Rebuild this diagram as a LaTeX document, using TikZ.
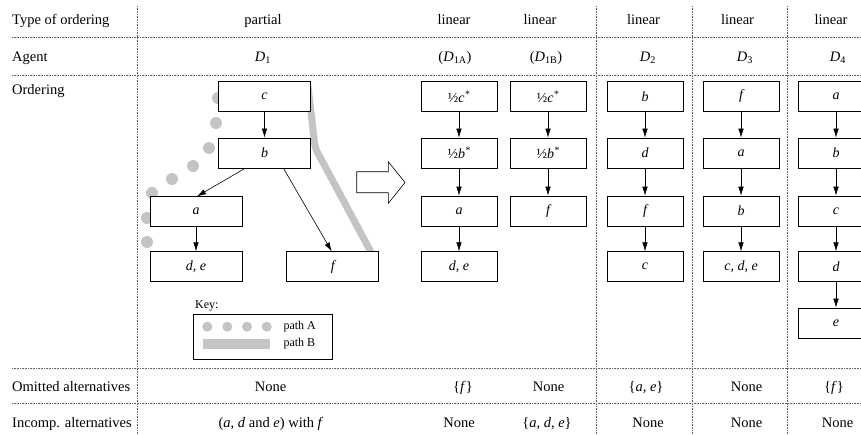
\documentclass[tikz,border=0pt]{standalone}
\usepackage{fontspec}
\setmainfont{Liberation Serif}
\usetikzlibrary{arrows.meta}
\definecolor{pathgray}{RGB}{196,196,196}
\definecolor{gridgray}{RGB}{100,100,100}
\begin{document}
\begin{tikzpicture}[x=1pt,y=-1pt,
  every node/.style={font=\fontsize{14.5}{17}\selectfont, inner sep=0pt},
  grid/.style={dash pattern=on 0.7pt off 0.9pt, line width=0.8pt, gridgray},
  lbox/.style={draw, line width=0.7pt, fill=white, minimum width=92pt, minimum height=30pt, font=\fontsize{14}{17}\selectfont\itshape},
  rbox/.style={lbox, minimum width=76pt},
  conn/.style={-{Latex[length=9pt,width=5.5pt]}, line width=0.6pt},
  lab/.style={anchor=base west},
  cell/.style={anchor=base},
  keytext/.style={font=\fontsize{12}{14}\selectfont},
  ]
\useasboundingbox (0,0) rectangle (861,434);
% grid
\draw[grid] (12,37.7) -- (861,37.7);
\draw[grid] (12,75) -- (861,75);
\draw[grid] (12,368.3) -- (861,368.3);
\draw[grid] (12,403.3) -- (861,403.3);
\draw[grid] (137,6) -- (137,434);
\draw[grid] (596.7,6) -- (596.7,434);
\draw[grid] (692.7,6) -- (692.7,434);
\draw[grid] (787.7,6) -- (787.7,434);
% row labels
\node[lab] (l1) at (12,24.8) {Type of ordering};
\node[lab] (l2) at (12,61.3) {Agent};
\node[lab] (l3) at (12,94.8) {Ordering};
\node[lab] (l4) at (12,391.3) {Omitted alternatives};
\node[lab] (l5) at (12,427) {Incomp. alternatives};
% headers
\node[cell] (h0) at (263,24.8) {partial};
\node[cell] (h1) at (454,24.8) {linear};
\node[cell] (h2) at (540,24.8) {linear};
\node[cell] (h3) at (643.5,24.8) {linear};
\node[cell] (h4) at (737.5,24.8) {linear};
\node[cell] (h5) at (831,24.8) {linear};
\node[cell] (g0) at (263,61.3) {\textit{D}\textsubscript{1}};
\node[cell] (g1) at (455,61.3) {(\textit{D}\textsubscript{1A})};
\node[cell] (g2) at (546,61.3) {(\textit{D}\textsubscript{1B})};
\node[cell] (g3) at (648,61.3) {\textit{D}\textsubscript{2}};
\node[cell] (g4) at (745,61.3) {\textit{D}\textsubscript{3}};
\node[cell] (g5) at (838,61.3) {\textit{D}\textsubscript{4}};
% omitted
\node[cell] (o0) at (270.5,391.3) {None};
\node[cell] (o1) at (463,391.3) {\{\textit{f}\}};
\node[cell] (o2) at (548.5,391.3) {None};
\node[cell] (o3) at (646,391.3) {\{\textit{a}, \textit{e}\}};
\node[cell] (o4) at (746.5,391.3) {None};
\node[cell] (o5) at (834,391.3) {\{\textit{f}\}};
% incompatible
\node[cell] (i0) at (271,427) {(\textit{a}, \textit{d} and \textit{e}) with \textit{f}};
\node[cell] (i1) at (459,427) {None};
\node[cell] (i2) at (547,427) {\{\textit{a}, \textit{d}, \textit{e}\}};
\node[cell] (i3) at (648,427) {None};
\node[cell] (i4) at (746.5,427) {None};
\node[cell] (i5) at (837.5,427) {None};
% path A dots
\foreach \p in {(218,98),(216,123),(209,148),(193,166),(172,179),(152,193),(147,218),(147,242)}
  \fill[pathgray] \p circle[radius=6pt];
% path B
\draw[pathgray, line width=7pt] (308,86) -- (314.5,143) .. controls (316,150) .. (320,157) -- (372,254);
% partial order boxes
\node[lbox] (c) at (264.5,96.5) {c};
\node[lbox] (b) at (264.5,153) {b};
\node[lbox] (a) at (196,211.7) {a};
\node[lbox] (de) at (196,266.7) {d, e};
\node[lbox] (f) at (332.7,266.7) {f};
\draw[conn] (c) -- (b);
\draw[conn] ([xshift=-19.5pt]b.south) -- ([xshift=1pt]a.north);
\draw[conn] ([xshift=19pt]b.south) -- ([xshift=-1pt]f.north);
\draw[conn] (a) -- (de);
% key
\node[keytext, anchor=base west] (keylab) at (195,308) {Key:};
\draw[line width=0.7pt] (193.3,314) rectangle (332.7,359.3);
\foreach \x in {207.3,227.3,247,266.7}
  \fill[pathgray] (\x,326.7) circle[radius=5pt];
\fill[pathgray] (203.3,339) rectangle (270,349.3);
\node[keytext, anchor=west] (kA) at (283.3,326.7) {path A};
\node[keytext, anchor=west] (kB) at (283.3,344) {path B};
% hollow arrow
\draw[line width=0.6pt, fill=white] (356.7,171.7) -- (388.3,171.7) -- (388.3,161.7) -- (405,182.5) -- (388.3,203.3) -- (388.3,192.7) -- (356.7,192.7) -- cycle;
% D1A
\node[rbox] (A1) at (459,96.5) {{\upshape ½}c\textsuperscript{*}};
\node[rbox] (A2) at (459,153) {{\upshape ½}b\textsuperscript{*}};
\node[rbox] (A3) at (459,211) {a};
\node[rbox] (A4) at (459,266.7) {d, e};
\draw[conn] (A1) -- (A2);
\draw[conn] (A2) -- (A3);
\draw[conn] (A3) -- (A4);
% D1B
\node[rbox] (B1) at (548,96.5) {{\upshape ½}c\textsuperscript{*}};
\node[rbox] (B2) at (548,153) {{\upshape ½}b\textsuperscript{*}};
\node[rbox] (B3) at (548,211) {f};
\draw[conn] (B1) -- (B2);
\draw[conn] (B2) -- (B3);
% D2
\node[rbox] (C1) at (645,96.5) {b};
\node[rbox] (C2) at (645,153) {d};
\node[rbox] (C3) at (645,211) {f};
\node[rbox] (C4) at (645,266.7) {c};
\draw[conn] (C1) -- (C2);
\draw[conn] (C2) -- (C3);
\draw[conn] (C3) -- (C4);
% D3
\node[rbox] (E1) at (741,96.5) {f};
\node[rbox] (E2) at (741,153) {a};
\node[rbox] (E3) at (741,211) {b};
\node[rbox] (E4) at (741,266.7) {c, d, e};
\draw[conn] (E1) -- (E2);
\draw[conn] (E2) -- (E3);
\draw[conn] (E3) -- (E4);
% D4
\node[rbox] (F1) at (836,96.5) {a};
\node[rbox] (F2) at (836,153) {b};
\node[rbox] (F3) at (836,211) {c};
\node[rbox] (F4) at (836,266.7) {d};
\node[rbox] (F5) at (836,323) {e};
\draw[conn] (F1) -- (F2);
\draw[conn] (F2) -- (F3);
\draw[conn] (F3) -- (F4);
\draw[conn] (F4) -- (F5);
\end{tikzpicture}
\end{document}
